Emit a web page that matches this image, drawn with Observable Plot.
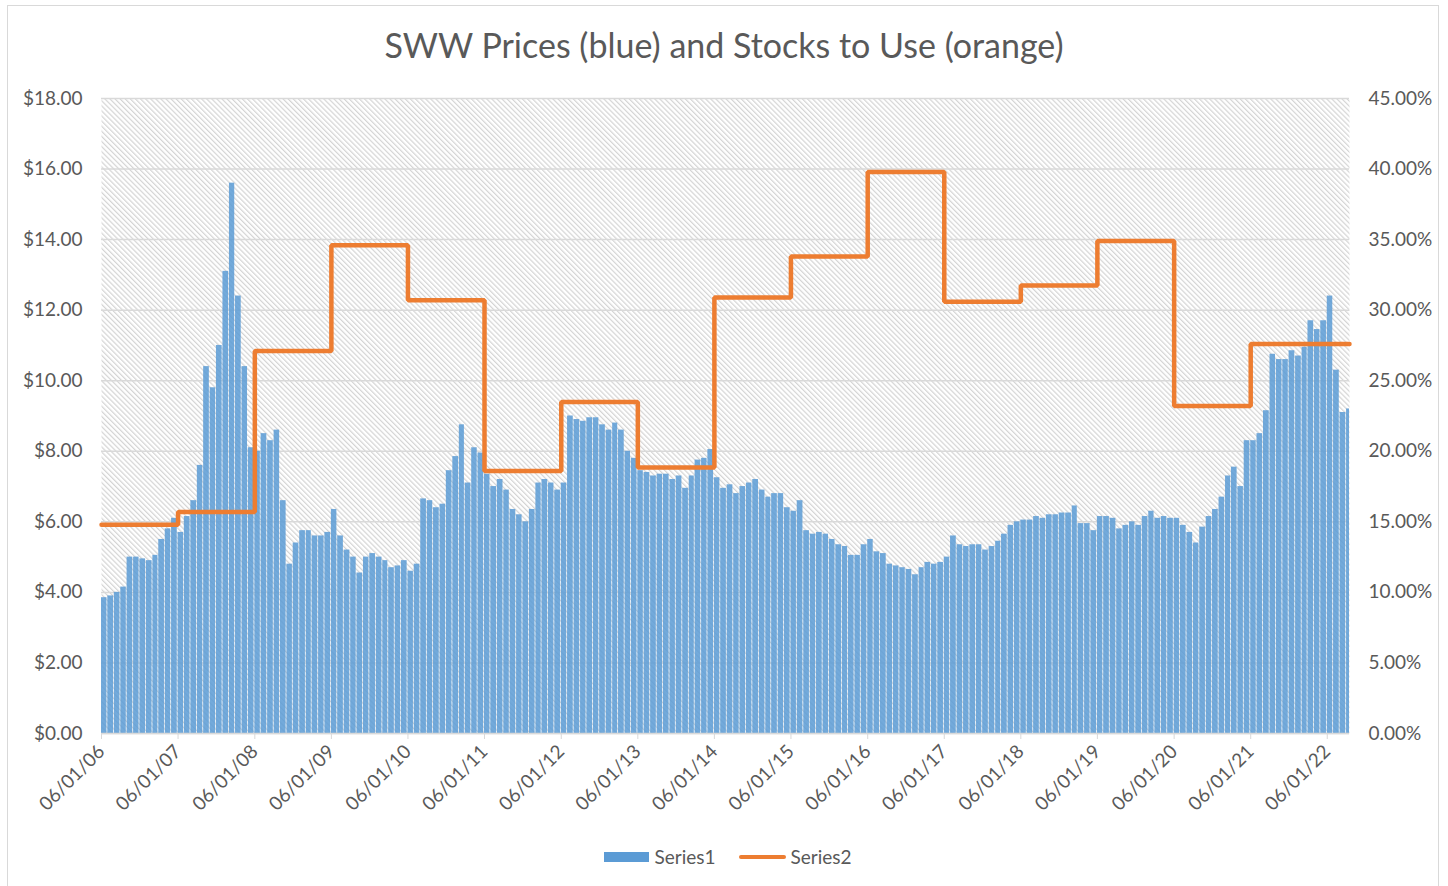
<!DOCTYPE html>
<html>
<head>
<meta charset="utf-8">
<script src="https://cdn.jsdelivr.net/npm/d3@7"></script>
<script src="https://cdn.jsdelivr.net/npm/@observablehq/plot@0.6"></script>
<style>
  body { margin: 0; background: #fff; font-family: Lato, "Open Sans", sans-serif; }
  #wrap { position: relative; width: 1448px; height: 886px; overflow: hidden; background: #fff; }
  #frame { position: absolute; left: 7px; top: 5px; width: 1432px; height: 900px; border: 1.5px solid #d9d9d9; box-sizing: border-box; }
  #chart { position: absolute; left: 0; top: 0; }
  #title { position: absolute; top: 24px; left: 0; width: 1448px; text-align: center; font-size: 34px; color: #595959; }
  #legend { position: absolute; top: 845px; left: 4px; width: 1448px; display: flex; justify-content: center; align-items: center; font-size: 19px; color: #595959; }
  .sw1 { display: inline-block; width: 45px; height: 10px; background: #5B9BD5; margin-right: 5px; }
  .sw2 { display: inline-block; width: 47px; height: 4px; background: #ED7D31; border-radius: 2px; margin-left: 23px; margin-right: 5px; }
</style>
</head>
<body>
<div id="wrap">
  <div id="frame"></div>
  <div id="chart"></div>
  <div id="title"></div>
  <div id="legend"></div>
</div>
<script>
// ---- data ----
const chartTitle = "SWW Prices (blue) and Stocks to Use (orange)";
const seriesNames = ["Series1", "Series2"];
const priceStart = "2006-06-01";   // first month of monthly price series
const axisEnd = "2022-09-15";
// SWW price, $/bu, one value per month starting June 2006
const prices2006 = [3.85, 3.9, 4.0, 4.15, 5.0, 5.0, 4.95];
const prices2007 = [4.9, 5.05, 5.5, 5.8, 6.1, 5.7, 6.15, 6.6, 7.6, 10.4, 9.8, 11.0];
const prices2008 = [13.1, 15.6, 12.4, 10.4, 8.1, 8.0, 8.5, 8.3, 8.6, 6.6, 4.8, 5.4];
const prices2009 = [5.75, 5.75, 5.6, 5.6, 5.7, 6.35, 5.6, 5.2, 5.0, 4.55, 5.0, 5.1];
const prices2010 = [5.0, 4.9, 4.7, 4.75, 4.9, 4.6, 4.8, 6.65, 6.6, 6.4, 6.5, 7.45];
const prices2011 = [7.85, 8.75, 7.1, 8.1, 7.95, 7.35, 7.0, 7.2, 6.9, 6.35, 6.2, 6.0];
const prices2012 = [6.35, 7.1, 7.2, 7.1, 6.9, 7.1, 9.0, 8.9, 8.85, 8.95, 8.95, 8.75];
const prices2013 = [8.6, 8.8, 8.6, 8.0, 7.8, 7.45, 7.4, 7.3, 7.35, 7.35, 7.2, 7.3];
const prices2014 = [6.95, 7.3, 7.75, 7.8, 8.05, 7.25, 6.95, 7.05, 6.8, 7.0, 7.1, 7.2];
const prices2015 = [6.9, 6.7, 6.8, 6.8, 6.4, 6.3, 6.6, 5.75, 5.65, 5.7, 5.65, 5.5];
const prices2016 = [5.35, 5.3, 5.05, 5.05, 5.35, 5.5, 5.15, 5.1, 4.8, 4.75, 4.7, 4.65];
const prices2017 = [4.5, 4.7, 4.85, 4.8, 4.85, 5.0, 5.6, 5.35, 5.3, 5.35, 5.35, 5.2];
const prices2018 = [5.3, 5.45, 5.65, 5.9, 6.0, 6.05, 6.05, 6.15, 6.1, 6.2, 6.2, 6.25];
const prices2019 = [6.25, 6.45, 5.95, 5.95, 5.75, 6.15, 6.15, 6.1, 5.8, 5.9, 6.0, 5.9];
const prices2020 = [6.15, 6.3, 6.1, 6.15, 6.1, 6.1, 5.9, 5.7, 5.4, 5.85, 6.15, 6.35];
const prices2021 = [6.7, 7.3, 7.55, 7.0, 8.3, 8.3, 8.5, 9.15, 10.75, 10.6, 10.6, 10.85];
const prices2022 = [10.7, 10.95, 11.7, 11.45, 11.7, 12.4, 10.3, 9.1, 9.2];
// Stocks to use (%), marketing years starting June 1
const stockYears = [2006, 2007, 2008, 2009, 2010, 2011, 2012, 2013, 2014, 2015, 2016, 2017, 2018, 2019, 2020, 2021];
const stocksToUse = [14.8, 15.7, 27.1, 34.6, 30.7, 18.6, 23.5, 18.85, 30.9, 33.8, 39.8, 30.6, 31.75, 34.9, 23.2, 27.6];
// axes
const leftTicks = [0, 2, 4, 6, 8, 10, 12, 14, 16, 18];
const rightTicks = [0, 5, 10, 15, 20, 25, 30, 35, 40, 45];
const xTickYears = [2006, 2007, 2008, 2009, 2010, 2011, 2012, 2013, 2014, 2015, 2016, 2017, 2018, 2019, 2020, 2021, 2022];

// ---- build ----
const allPrices = [].concat(prices2006, prices2007, prices2008, prices2009, prices2010, prices2011,
  prices2012, prices2013, prices2014, prices2015, prices2016, prices2017, prices2018, prices2019,
  prices2020, prices2021, prices2022);
const start = new Date(priceStart);
const end = new Date(axisEnd);
const priceData = allPrices.map((p, i) => ({ date: d3.utcMonth.offset(start, i), price: p }));
const k = 18 / 45; // right axis (%) -> left axis ($) scale
const stockData = stockYears.map((y, i) => ({ date: new Date(Date.UTC(y, 5, 1)), pct: stocksToUse[i] }));
stockData.push({ date: end, pct: stocksToUse[stocksToUse.length - 1] });
const xTicks = xTickYears.map(y => new Date(Date.UTC(y, 5, 1)));

const chart = Plot.plot({
  width: 1448,
  height: 830,
  marginTop: 98,
  marginBottom: 97,
  marginLeft: 101,
  marginRight: 99,
  x: { type: "utc", domain: [start, end] },
  y: { domain: [0, 18] },
  style: { fontFamily: "Lato, 'Open Sans', sans-serif", fontSize: "19px", color: "#595959", background: "transparent", overflow: "visible" },
  marks: [
    Plot.frame({ fill: "url(#hatch)", stroke: null }),
    Plot.gridY(leftTicks, { stroke: "#d9d9d9", strokeOpacity: 1, strokeWidth: 1.5 }),
    Plot.rectY(priceData, { x: "date", y: "price", interval: "month", fill: "#5B9BD5", fillOpacity: 0.85, insetRight: 0.8, clip: true }),
    Plot.ruleY([0], { stroke: "#d9d9d9", strokeWidth: 1.5 }),
    Plot.line(stockData, { x: "date", y: d => d.pct * k, curve: "step-after", stroke: "#ED7D31", strokeWidth: 4.5, strokeLinejoin: "miter" }),
    Plot.axisY(leftTicks, { anchor: "left", tickFormat: d => "$" + d.toFixed(2), tickSize: 0, tickPadding: 19, label: null }),
    Plot.axisY(rightTicks.map(v => v * k), { anchor: "right", tickFormat: d => (d / k).toFixed(2) + "%", tickSize: 0, tickPadding: 19, label: null }),
    Plot.axisX(xTicks, { tickFormat: d3.utcFormat("%m/%d/%y"), tickSize: 6, tickPadding: 9, tickRotate: -45, stroke: "#d9d9d9", fill: "#595959", label: null })
  ]
});

d3.select(chart).insert("defs", ":first-child").html(
  '<pattern id="hatch" width="3.6" height="3.6" patternUnits="userSpaceOnUse" patternTransform="rotate(-45)">' +
  '<rect width="3.6" height="3.6" fill="#ffffff"/>' +
  '<line x1="0.6" y1="0" x2="0.6" y2="3.6" stroke="#d4d4d4" stroke-width="1.2"/></pattern>'
);

document.getElementById("chart").appendChild(chart);
document.getElementById("title").textContent = chartTitle;
const legend = document.getElementById("legend");
legend.innerHTML = '<span class="sw1"></span><span>' + seriesNames[0] + '</span><span class="sw2"></span><span>' + seriesNames[1] + '</span>';
</script>
</body>
</html>
